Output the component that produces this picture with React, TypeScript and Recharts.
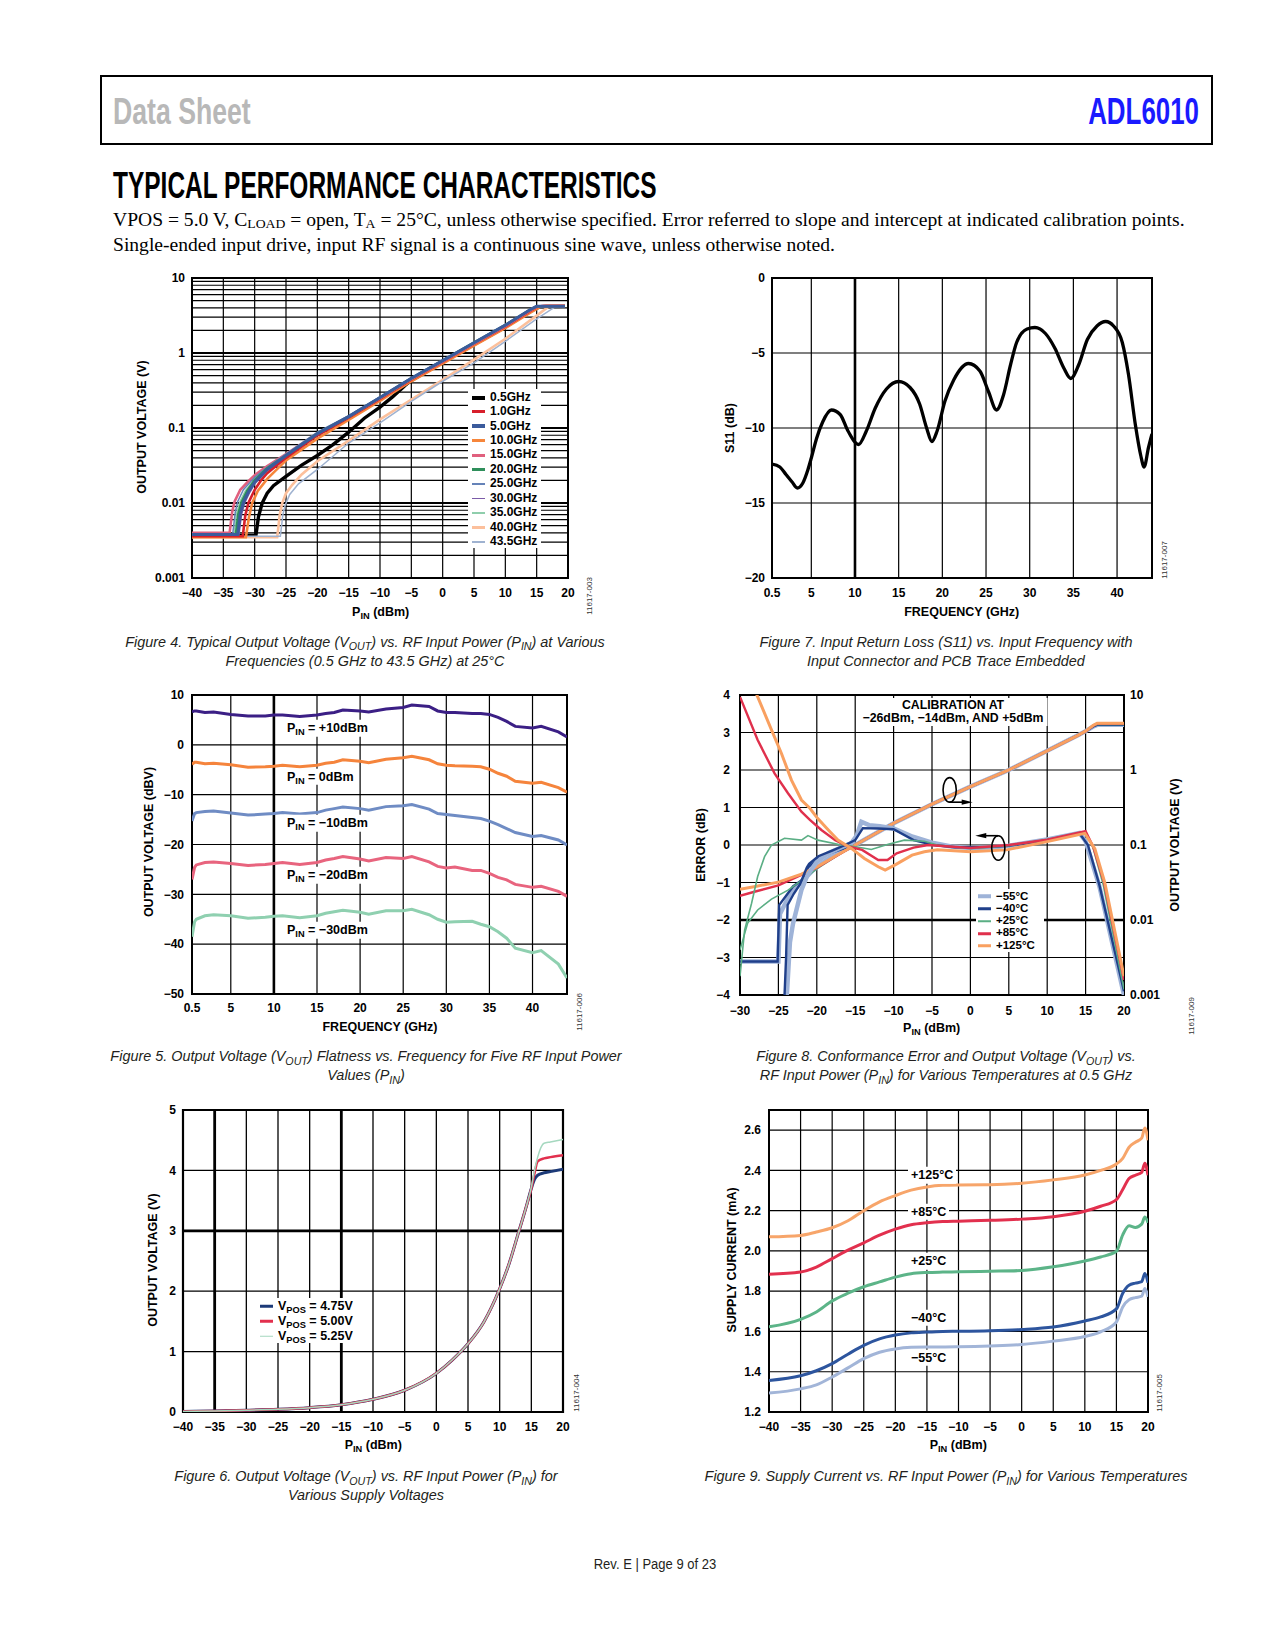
import React from "react";
import {
  LineChart,
  Line,
  XAxis,
  YAxis,
  CartesianGrid,
  ReferenceLine,
  ReferenceArea,
  ReferenceDot,
} from "recharts";

const SANS = "'Liberation Sans', Arial, Helvetica, sans-serif";
const SERIF = "'Liberation Serif', 'Times New Roman', serif";

// ---------- Figure 4: Vout vs Pin at various frequencies (log y) ----------
const F4_LABELS = ["0.5GHz", "1.0GHz", "5.0GHz", "10.0GHz", "15.0GHz", "20.0GHz", "25.0GHz", "30.0GHz", "35.0GHz", "40.0GHz", "43.5GHz"];
const F4_COLORS = ["#000000", "#d71f2b", "#3b5b9c", "#f6863b", "#e0607e", "#2f8f5b", "#6583b8", "#7b5ba8", "#8fceac", "#fcc09c", "#9fb2d0"];
const F4_WIDTHS = [3.4, 2.6, 3, 2.6, 2.6, 2.6, 1.5, 1.5, 1.5, 2.6, 1.5];
// drawing order, bottom first
const F4_ORDER = [0, 9, 10, 7, 3, 1, 4, 8, 6, 5, 2];

const F4_05 = [[-40, 0.0037], [-29.8, 0.0037], [-29.4, 0.0065], [-28.8, 0.01], [-28, 0.0135], [-27, 0.017], [-25, 0.0226], [-22.5, 0.032], [-20, 0.043], [-17.5, 0.06], [-15, 0.088], [-12.5, 0.135], [-10, 0.19], [-8, 0.26], [-6, 0.37], [-5, 0.43], [0, 0.75], [5, 1.3], [10, 2.22], [14, 3.6], [15.5, 4.15], [19.5, 4.2]];
const F4_1 = [[-40, 0.0036], [-31.9, 0.0036], [-31.5, 0.0068], [-31, 0.01], [-30, 0.015], [-29, 0.02], [-28, 0.025], [-25, 0.04], [-20, 0.08], [-15, 0.137], [-10, 0.245], [-5, 0.44], [0, 0.76], [5, 1.32], [10, 2.25], [14, 3.65], [15.2, 4.15], [19.5, 4.2]];
const F4_5 = [[-40, 0.0038], [-32.7, 0.0038], [-32.3, 0.0072], [-31.8, 0.0102], [-31, 0.014], [-30, 0.019], [-28, 0.028], [-25, 0.043], [-20, 0.084], [-15, 0.142], [-10, 0.255], [-5, 0.46], [0, 0.79], [5, 1.37], [10, 2.35], [14, 3.8], [15, 4.2], [19.5, 4.2]];
const F4_10 = [[-40, 0.0035], [-31.4, 0.0035], [-30.9, 0.0065], [-30.4, 0.01], [-29.5, 0.0145], [-28, 0.021], [-25, 0.037], [-20, 0.072], [-15, 0.128], [-10, 0.23], [-5, 0.42], [0, 0.72], [5, 1.25], [10, 2.15], [14, 3.45], [15.5, 4.1], [16.5, 4.3], [19.5, 4.3]];
const F4_15 = [[-40, 0.004], [-34, 0.004], [-33.6, 0.0075], [-33.2, 0.0105], [-32.3, 0.015], [-31, 0.0195], [-30, 0.0235], [-28, 0.031], [-25, 0.045], [-20, 0.085], [-15, 0.142], [-10, 0.25], [-5, 0.45], [0, 0.77], [5, 1.33], [10, 2.28], [14, 3.7], [15, 4.1], [16, 4.25], [19.5, 4.25]];
const F4_20 = [[-40, 0.0038], [-33, 0.0038], [-32.6, 0.0072], [-32.1, 0.0102], [-31.2, 0.0145], [-30, 0.02], [-28, 0.029], [-25, 0.043], [-20, 0.084], [-15, 0.142], [-10, 0.255], [-5, 0.46], [0, 0.79], [5, 1.37], [10, 2.35], [14, 3.8], [15, 4.2], [19.5, 4.2]];
const F4_25 = [[-40, 0.0039], [-33.5, 0.0039], [-33.1, 0.0075], [-32.7, 0.0105], [-31.8, 0.015], [-30, 0.022], [-28, 0.03], [-25, 0.045], [-20, 0.088], [-15, 0.146], [-10, 0.26], [-5, 0.47], [0, 0.81], [5, 1.4], [10, 2.4], [14, 3.85], [14.8, 4.2], [19.5, 4.2]];
const F4_30 = [[-40, 0.0038], [-32.5, 0.0038], [-32.1, 0.007], [-31.6, 0.01], [-30.8, 0.0138], [-30, 0.018], [-28, 0.027], [-25, 0.041], [-20, 0.079], [-15, 0.134], [-10, 0.24], [-5, 0.43], [0, 0.74], [5, 1.28], [10, 2.18], [14, 3.5], [15.5, 4.1], [19.5, 4.15]];
const F4_35 = [[-40, 0.0038], [-33.3, 0.0038], [-32.9, 0.0072], [-32.4, 0.0102], [-31.5, 0.0145], [-30, 0.021], [-28, 0.029], [-25, 0.043], [-20, 0.083], [-15, 0.14], [-10, 0.25], [-5, 0.45], [0, 0.78], [5, 1.35], [10, 2.32], [14, 3.75], [15, 4.15], [19.5, 4.2]];
const F4_40 = [[-40, 0.0035], [-26.4, 0.0035], [-26, 0.007], [-25.6, 0.01], [-25, 0.0135], [-24, 0.0175], [-22.5, 0.024], [-20, 0.036], [-15, 0.068], [-10, 0.13], [-5, 0.24], [0, 0.44], [5, 0.815], [10, 1.55], [15, 3.15], [17, 4.2], [19.5, 4.25]];
const F4_435 = [[-40, 0.0036], [-25.9, 0.0036], [-25.5, 0.007], [-25.1, 0.0095], [-24.4, 0.013], [-23, 0.018], [-20, 0.028], [-15, 0.063], [-10, 0.117], [-5, 0.227], [0, 0.42], [5, 0.74], [10, 1.43], [15, 2.85], [18, 4.15], [19.5, 4.15]];
const F4_SERIES = [F4_05, F4_1, F4_5, F4_10, F4_15, F4_20, F4_25, F4_30, F4_35, F4_40, F4_435];

// ---------- Figure 7: S11 vs frequency ----------
const S11 = [[0.5, -12.4], [1.4, -12.6], [2.1, -13.1], [2.8, -13.6], [3.4, -14.0], [4.0, -13.7], [4.6, -12.8], [5.0, -12.0], [5.6, -10.7], [6.3, -9.6], [7.3, -8.8], [8.3, -9.1], [9.2, -10.2], [10.4, -11.1], [11.3, -10.2], [12.3, -8.7], [13.6, -7.4], [15.0, -6.9], [16.3, -7.3], [17.4, -8.4], [18.2, -10.0], [18.8, -10.9], [19.4, -10.2], [20.3, -8.2], [21.3, -6.8], [23.0, -5.7], [24.3, -6.2], [25.3, -7.6], [26.2, -8.8], [27.0, -7.8], [27.8, -5.8], [28.5, -4.3], [29.7, -3.4], [30.6, -3.3], [31.8, -3.7], [32.9, -4.7], [33.9, -6.0], [34.7, -6.7], [35.6, -5.8], [36.6, -4.1], [37.7, -3.2], [38.7, -2.9], [39.6, -3.2], [40.6, -4.3], [41.3, -6.4], [42.1, -9.8], [42.7, -11.8], [43.1, -12.6], [43.6, -11.3], [44.0, -10.4]];

// ---------- Figure 5: flatness vs frequency ----------
const F5_FREQ = [0.5, 0.8, 1, 2, 3, 5, 7, 9, 10, 11, 13, 15, 16, 17, 18, 20, 21, 23, 25, 26, 28, 29, 30, 31, 33, 34, 35, 36, 37, 38, 40, 41, 43, 44];
const F5_P10 = [6.6, 6.8, 6.8, 6.5, 6.6, 6.1, 5.8, 5.8, 6.0, 6.0, 5.7, 6.0, 6.3, 6.5, 7.0, 6.8, 6.6, 7.2, 7.5, 8.0, 7.7, 6.8, 6.5, 6.5, 6.3, 6.3, 6.1, 5.5, 4.7, 3.7, 3.4, 3.7, 2.6, 1.6];
const F5_P0 = [-3.9, -3.5, -3.5, -3.8, -3.7, -4.0, -4.5, -4.4, -4.3, -4.1, -4.4, -4.1, -3.7, -3.5, -3.0, -3.3, -3.6, -2.9, -2.6, -2.3, -3.0, -3.8, -4.1, -4.2, -4.3, -4.4, -4.9, -5.7, -6.3, -7.3, -7.7, -7.5, -8.6, -9.5];
const F5_M10 = [-15.3, -13.8, -13.6, -13.4, -13.3, -13.7, -14.1, -13.9, -13.8, -13.6, -13.9, -13.6, -13.1, -12.8, -12.5, -12.8, -13.1, -12.4, -12.2, -12.0, -12.9, -13.8, -14.0, -14.2, -14.6, -14.8, -15.3, -16.0, -16.8, -17.6, -18.4, -18.2, -19.1, -20.1];
const F5_M20 = [-27.0, -24.6, -24.1, -23.6, -23.5, -23.8, -24.2, -24.0, -23.8, -23.6, -24.0, -23.6, -23.1, -22.8, -22.4, -22.9, -23.3, -22.6, -22.8, -22.4, -23.5, -24.4, -24.7, -24.5, -25.2, -25.2, -25.8, -26.6, -27.1, -28.0, -28.6, -28.4, -29.4, -30.4];
const F5_M30 = [-38.5, -35.5, -35.0, -34.3, -34.1, -34.3, -34.8, -34.6, -34.4, -34.3, -34.7, -34.3, -33.8, -33.5, -33.2, -33.6, -34.0, -33.3, -33.3, -33.0, -34.1, -35.0, -35.6, -35.5, -35.4, -36.0, -36.5, -37.5, -38.8, -40.8, -41.7, -41.3, -44.0, -46.8];
const F5_COLORS = ["#3b1f85", "#f5843c", "#6f8cc4", "#e8647e", "#8fd0b0"];

// ---------- Figure 8: error and Vout vs Pin for temperatures ----------
const F8_LABELS = ["\u221255°C", "\u221240°C", "+25°C", "+85°C", "+125°C"];
const F8_COLORS = ["#9eb3d8", "#1f3f8a", "#5aae84", "#e0304c", "#f9a060"];
const F8_WIDTHS = [4.5, 2.4, 1.6, 2.4, 3];
const ERR_M55 = [[-23.9, -4.0], [-23.5, -2.6], [-23.1, -2.1], [-22.0, -1.2], [-21.2, -0.8], [-20, -0.45], [-18.5, -0.22], [-17, -0.08], [-15.5, 0.05], [-14.8, 0.25], [-14.2, 0.62], [-13.2, 0.53], [-11.8, 0.5], [-10, 0.44], [-7.5, 0.22], [-5, 0.06], [-2.5, -0.04], [0, -0.08], [3, -0.06], [5, -0.02], [10, 0.15], [14.2, 0.32], [15, 0.1], [16.8, -1.1], [20, -4.0]];
const ERR_M40 = [[-24.2, -4.0], [-24.0, -3.0], [-23.8, -1.6], [-23.0, -1.3], [-22.2, -1.05], [-21.3, -0.6], [-21.0, -0.5], [-19.8, -0.3], [-18, -0.15], [-16.3, 0.0], [-15, 0.13], [-14, 0.45], [-12, 0.44], [-10, 0.42], [-7.4, 0.13], [-4.8, 0.0], [-2, -0.06], [0, -0.06], [3, -0.05], [5, -0.02], [10, 0.13], [14.2, 0.31], [15.3, 0.0], [16.8, -1.07], [20, -3.9]];
const ERR_P25 = [[-30, -3.5], [-29.4, -2.27], [-28.5, -1.56], [-27.7, -0.84], [-26.8, -0.31], [-25.9, 0.0], [-24.2, 0.18], [-22.0, 0.13], [-21.15, 0.25], [-19.85, 0.13], [-17.25, 0.02], [-15.1, -0.04], [-12.9, -0.12], [-10.7, 0.02], [-8.6, 0.13], [-6.0, 0.1], [-4.3, 0.0], [0, -0.1], [5, -0.02], [10, 0.15], [15, 0.36], [16, -0.1], [17.3, -1.07], [20, -3.85]];
const ERR_P85 = [[-30, 3.95], [-27.7, 2.8], [-25.5, 1.91], [-23.75, 1.38], [-22.0, 0.89], [-20.9, 0.67], [-19.4, 0.4], [-17.6, 0.13], [-15.9, -0.04], [-14.1, -0.13], [-12.0, -0.4], [-10.8, -0.4], [-9.6, -0.22], [-7.4, -0.07], [-5.5, 0.0], [0, -0.08], [5, 0.0], [10, 0.14], [15, 0.37], [16, -0.05], [17.4, -1.0], [20, -3.6]];
const ERR_P125 = [[-28.5, 4.6], [-27.8, 4.0], [-25.9, 3.07], [-24.6, 2.44], [-23.3, 1.73], [-22.0, 1.2], [-20.9, 0.98], [-19.9, 0.71], [-18.5, 0.4], [-17.25, 0.13], [-15.5, -0.09], [-13.8, -0.36], [-12.0, -0.58], [-11.1, -0.67], [-9.8, -0.53], [-7.6, -0.27], [-6.0, -0.18], [-4.3, -0.13], [0, -0.18], [4.7, -0.13], [10, 0.09], [14.9, 0.31], [16.2, -0.1], [17.5, -1.0], [20, -3.5]];
const VOUT_M55 = [[-30, 0.0028], [-25.0, 0.0028], [-24.8, 0.012], [-23.5, 0.022], [-22, 0.032], [-20.5, 0.046], [-18, 0.072], [-15, 0.1], [-10, 0.195], [-5, 0.35], [0, 0.6], [5, 1.0], [10, 1.8], [14, 2.9], [15, 3.3], [16, 3.8], [16.5, 4.0], [20, 4.0]];
const VOUT_M40 = [[-30, 0.0028], [-25.1, 0.0028], [-24.9, 0.0158], [-23.1, 0.028], [-21.6, 0.036], [-21.15, 0.05], [-19.85, 0.065], [-18, 0.08], [-15, 0.1], [-10, 0.195], [-5, 0.35], [0, 0.6], [5, 1.0], [10, 1.8], [14, 2.9], [15, 3.3], [16, 3.8], [16.5, 4.0], [20, 4.0]];
const VOUT_P25 = [[-30, 0.004], [-29, 0.0091], [-27.7, 0.0136], [-25.9, 0.019], [-23.75, 0.025], [-21.6, 0.036], [-20, 0.048], [-17.5, 0.07], [-15, 0.1], [-10, 0.195], [-5, 0.35], [0, 0.6], [5, 1.0], [10, 1.8], [14, 2.9], [15, 3.3], [16, 3.85], [16.5, 4.05], [20, 4.05]];
const VOUT_P85 = [[-30, 0.021], [-28, 0.024], [-25, 0.029], [-22, 0.04], [-20, 0.05], [-17.5, 0.071], [-15, 0.1], [-10, 0.195], [-5, 0.35], [0, 0.6], [5, 1.0], [10, 1.8], [14, 2.9], [15, 3.3], [16, 3.9], [16.5, 4.15], [20, 4.15]];
const VOUT_P125 = [[-30, 0.0257], [-28, 0.028], [-25, 0.032], [-22, 0.041], [-20, 0.051], [-17.5, 0.072], [-15, 0.1], [-10, 0.195], [-5, 0.35], [0, 0.6], [5, 1.0], [10, 1.8], [14, 2.9], [15, 3.3], [16, 3.95], [16.5, 4.2], [20, 4.2]];
const F8_ERR = [ERR_M55, ERR_M40, ERR_P25, ERR_P85, ERR_P125];
const F8_VOUT = [VOUT_M55, VOUT_M40, VOUT_P25, VOUT_P85, VOUT_P125];

// ---------- Figure 6: Vout (linear) vs Pin for supply voltages ----------
const F6_PIN = [-40, -35, -30, -25, -20, -15, -10, -5, 0, 2.5, 5, 7.5, 10, 11.5, 13, 14.2, 15, 15.5, 16, 17, 18, 20];
const F6_V475 = [0.01, 0.017, 0.028, 0.044, 0.072, 0.12, 0.21, 0.36, 0.64, 0.86, 1.13, 1.49, 2.04, 2.46, 2.98, 3.4, 3.7, 3.85, 3.92, 3.96, 3.98, 4.02];
const F6_V500 = [0.01, 0.017, 0.028, 0.044, 0.072, 0.12, 0.21, 0.36, 0.64, 0.86, 1.13, 1.49, 2.04, 2.46, 2.98, 3.4, 3.7, 3.95, 4.15, 4.2, 4.22, 4.25];
const F6_V525 = [0.01, 0.017, 0.028, 0.044, 0.072, 0.12, 0.21, 0.36, 0.64, 0.86, 1.13, 1.49, 2.04, 2.46, 2.98, 3.4, 3.72, 4.0, 4.22, 4.45, 4.47, 4.51];
const F6_LABELS = ["4.75V", "5.00V", "5.25V"];
const F6_COLORS = ["#1c3a78", "#e2304e", "#a5d8bf"];
const F6_WIDTHS = [3, 2.5, 1.5];

// ---------- Figure 9: supply current vs Pin ----------
const F9_PIN = [-40, -35, -32.5, -30, -27.5, -25, -22.5, -20, -17.5, -15, -12.5, -10, -5, 0, 5, 10, 12.5, 15, 16, 17, 18, 19, 19.5, 20];
const F9_P125 = [2.07, 2.077, 2.094, 2.115, 2.15, 2.2, 2.244, 2.275, 2.302, 2.318, 2.326, 2.328, 2.329, 2.336, 2.353, 2.377, 2.4, 2.432, 2.46, 2.515, 2.54, 2.56, 2.61, 2.55];
const F9_P85 = [1.884, 1.895, 1.92, 1.962, 2.004, 2.04, 2.078, 2.108, 2.13, 2.14, 2.146, 2.148, 2.152, 2.158, 2.17, 2.197, 2.222, 2.255, 2.305, 2.36, 2.376, 2.39, 2.435, 2.376];
const F9_P25 = [1.623, 1.66, 1.697, 1.752, 1.79, 1.822, 1.846, 1.87, 1.887, 1.893, 1.895, 1.896, 1.899, 1.903, 1.921, 1.95, 1.97, 1.998, 2.08, 2.125, 2.117, 2.133, 2.168, 2.14];
const F9_M40 = [1.357, 1.38, 1.405, 1.44, 1.487, 1.531, 1.563, 1.582, 1.593, 1.597, 1.6, 1.601, 1.604, 1.61, 1.622, 1.652, 1.672, 1.712, 1.79, 1.83, 1.84, 1.847, 1.888, 1.842];
const F9_M55 = [1.294, 1.315, 1.335, 1.374, 1.419, 1.465, 1.497, 1.513, 1.521, 1.523, 1.523, 1.524, 1.528, 1.535, 1.552, 1.575, 1.598, 1.647, 1.722, 1.758, 1.768, 1.775, 1.813, 1.772];
const F9_COLORS = ["#f7a56a", "#e2304e", "#5cb488", "#2d559e", "#a2b5d8"];

// ---------- ticks ----------
const PIN40_TICKS = [-40, -35, -30, -25, -20, -15, -10, -5, 0, 5, 10, 15, 20];
const PIN30_TICKS = [-30, -25, -20, -15, -10, -5, 0, 5, 10, 15, 20];
const FREQ_TICKS = [0.5, 5, 10, 15, 20, 25, 30, 35, 40];
const DECADES = [0.001, 0.01, 0.1, 1, 10];
const LOG_GRID = [0.001, 0.01, 0.1, 1]
  .flatMap((d) => [1, 2, 3, 4, 5, 6, 7, 8, 9].map((m) => +(d * m).toPrecision(2)))
  .concat(10);

const pts = (arr: number[][]) => arr.map(([p, v]) => ({ p, v }));

const TICK = { fill: "#000", fontSize: 12, fontWeight: 700, fontFamily: SANS };
const minus = (v: number) => String(v).replace("-", "\u2212");
const logFmt = (v: number) => (DECADES.includes(v) ? String(v) : "");

type Rect = { x: number; y: number; w: number; h: number };
const YW = 60;
const XH = 30;
const MT = 10;

const P4: Rect = { x: 192, y: 278, w: 376, h: 300 };
const P7: Rect = { x: 772, y: 278, w: 380, h: 300 };
const P5: Rect = { x: 192, y: 695, w: 375, h: 299 };
const P8: Rect = { x: 740, y: 695, w: 384, h: 300 };
const P6: Rect = { x: 183, y: 1110, w: 380, h: 302 };
const P9: Rect = { x: 769, y: 1110, w: 379, h: 302 };

type TxtProps = {
  x: number;
  y: number;
  a?: "start" | "middle" | "end";
  rot?: number;
  sx?: number;
  style?: React.CSSProperties;
  children: React.ReactNode;
};

function Txt({ x, y, a = "middle", rot = 0, sx = 1, style, children }: TxtProps) {
  const tx = a === "start" ? "0" : a === "end" ? "-100%" : "-50%";
  const ox = a === "start" ? "left" : a === "end" ? "right" : "center";
  return (
    <div
      style={{
        position: "absolute",
        left: x,
        top: y,
        whiteSpace: "nowrap",
        lineHeight: 1,
        transform: `translate(${tx},-50%) rotate(${rot}deg) scaleX(${sx})`,
        transformOrigin: `${ox} center`,
        ...style,
      }}
    >
      {children}
    </div>
  );
}

const Sub = ({ children }: { children: React.ReactNode }) => (
  <span style={{ fontSize: "0.74em", position: "relative", top: "0.32em" }}>{children}</span>
);

const AX = { fontSize: 12.5, fontWeight: 700, fontFamily: SANS };
const MARK = { fontSize: 8, color: "#333", fontFamily: SANS };
const CAP = { fontSize: 15.5, fontStyle: "italic" as const, fontFamily: SANS, color: "#231f20" };
const CAP_SX = 0.93;
const LBL = { fontSize: 12.5, fontWeight: 700, fontFamily: SANS, background: "#fff", padding: "2px 3px" };
const PARA = { fontFamily: SERIF, fontSize: 19, color: "#000" };
const PARA_SX = 1.03;

function Swatch({ color, h }: { color: string; h: number }) {
  return <span style={{ display: "inline-block", width: 13, height: h, background: color, verticalAlign: "middle", marginRight: 5 }} />;
}

// ---------- figures ----------
function Fig4() {
  return (
    <>
      <div style={{ position: "absolute", left: P4.x - YW, top: P4.y - MT }}>
        <LineChart width={P4.w + YW + 10} height={P4.h + MT + XH} margin={{ top: MT, right: 10, bottom: 0, left: 0 }}>
          <CartesianGrid stroke="#000" strokeWidth={1.2} />
          <XAxis dataKey="p" type="number" domain={[-40, 20]} ticks={PIN40_TICKS} interval={0} tick={TICK} tickFormatter={minus} tickLine={false} axisLine={false} tickSize={0} tickMargin={10} height={XH} allowDataOverflow />
          <YAxis type="number" scale="log" domain={[0.001, 10]} ticks={LOG_GRID} interval={0} tick={TICK} tickFormatter={logFmt} tickLine={false} axisLine={false} tickSize={0} tickMargin={7} width={YW} allowDataOverflow />
          {[0.01, 0.1, 1].map((d) => (
            <ReferenceLine key={d} y={d} stroke="#000" strokeWidth={2.2} />
          ))}
          <ReferenceArea x1={-40} x2={20} y1={0.001} y2={10} fill="none" stroke="#000" strokeWidth={2} />
          {F4_ORDER.map((i) => (
            <Line key={F4_LABELS[i]} data={pts(F4_SERIES[i])} dataKey="v" type="linear" stroke={F4_COLORS[i]} strokeWidth={F4_WIDTHS[i]} dot={false} isAnimationActive={false} />
          ))}
        </LineChart>
      </div>
      <div style={{ position: "absolute", left: 468, top: 389, width: 73, height: 159, background: "#fff" }} />
      {F4_LABELS.map((l, i) => (
        <Txt key={l} x={472} y={396.7 + i * 14.43} a="start" style={{ fontSize: 12, fontWeight: 700, fontFamily: SANS }}>
          <Swatch color={F4_COLORS[i]} h={i === 0 || i === 2 ? 4 : F4_WIDTHS[i] < 2 ? 1.5 : 3} />
          {l}
        </Txt>
      ))}
      <Txt x={141.7} y={427} rot={-90} style={AX}>OUTPUT VOLTAGE (V)</Txt>
      <Txt x={380.7} y={611.7} style={AX}>
        P<Sub>IN</Sub> (dBm)
      </Txt>
      <Txt x={590} y={596} rot={-90} style={MARK}>11617-003</Txt>
      <Txt x={365} y={641.7} sx={CAP_SX} style={CAP}>
        Figure 4. Typical Output Voltage (V<Sub>OUT</Sub>) vs. RF Input Power (P<Sub>IN</Sub>) at Various
      </Txt>
      <Txt x={365} y={660.7} sx={CAP_SX} style={CAP}>Frequencies (0.5 GHz to 43.5 GHz) at 25°C</Txt>
    </>
  );
}

function Fig7() {
  return (
    <>
      <div style={{ position: "absolute", left: P7.x - YW, top: P7.y - MT }}>
        <LineChart width={P7.w + YW + 10} height={P7.h + MT + XH} margin={{ top: MT, right: 10, bottom: 0, left: 0 }}>
          <CartesianGrid stroke="#000" strokeWidth={1.2} />
          <XAxis dataKey="p" type="number" domain={[0.5, 44]} ticks={FREQ_TICKS} interval={0} tick={TICK} tickFormatter={minus} tickLine={false} axisLine={false} tickSize={0} tickMargin={10} height={XH} allowDataOverflow />
          <YAxis type="number" domain={[-20, 0]} ticks={[-20, -15, -10, -5, 0]} interval={0} tick={TICK} tickFormatter={minus} tickLine={false} axisLine={false} tickSize={0} tickMargin={7} width={YW} allowDataOverflow />
          <ReferenceLine x={10} stroke="#000" strokeWidth={2.6} />
          <ReferenceArea x1={0.5} x2={44} y1={-20} y2={0} fill="none" stroke="#000" strokeWidth={2} />
          <Line data={pts(S11)} dataKey="v" type="monotone" stroke="#000" strokeWidth={3.3} dot={false} isAnimationActive={false} />
        </LineChart>
      </div>
      <Txt x={730} y={428} rot={-90} style={AX}>S11 (dB)</Txt>
      <Txt x={961.7} y={611.7} style={AX}>FREQUENCY (GHz)</Txt>
      <Txt x={1165} y={560} rot={-90} style={MARK}>11617-007</Txt>
      <Txt x={946.3} y={641.7} sx={CAP_SX} style={CAP}>Figure 7. Input Return Loss (S11) vs. Input Frequency with</Txt>
      <Txt x={946.3} y={660.7} sx={CAP_SX} style={CAP}>Input Connector and PCB Trace Embedded</Txt>
    </>
  );
}

function Fig5() {
  const rows = F5_FREQ.map((f, i) => ({ p: f, a: F5_P10[i], b: F5_P0[i], c: F5_M10[i], d: F5_M20[i], e: F5_M30[i] }));
  const keys = ["a", "b", "c", "d", "e"];
  const labels = ["+10dBm", "0dBm", "\u221210dBm", "\u221220dBm", "\u221230dBm"];
  const ly = [728.3, 776.7, 823.3, 875, 930];
  return (
    <>
      <div style={{ position: "absolute", left: P5.x - YW, top: P5.y - MT }}>
        <LineChart data={rows} width={P5.w + YW + 10} height={P5.h + MT + XH} margin={{ top: MT, right: 10, bottom: 0, left: 0 }}>
          <CartesianGrid stroke="#000" strokeWidth={1.2} />
          <XAxis dataKey="p" type="number" domain={[0.5, 44]} ticks={FREQ_TICKS} interval={0} tick={TICK} tickFormatter={minus} tickLine={false} axisLine={false} tickSize={0} tickMargin={9} height={XH} allowDataOverflow />
          <YAxis type="number" domain={[-50, 10]} ticks={[-50, -40, -30, -20, -10, 0, 10]} interval={0} tick={TICK} tickFormatter={minus} tickLine={false} axisLine={false} tickSize={0} tickMargin={8} width={YW} allowDataOverflow />
          <ReferenceLine x={10} stroke="#000" strokeWidth={2.6} />
          <ReferenceArea x1={0.5} x2={44} y1={-50} y2={10} fill="none" stroke="#000" strokeWidth={2} />
          {keys.map((k, i) => (
            <Line key={k} dataKey={k} type="linear" stroke={F5_COLORS[i]} strokeWidth={3} dot={false} isAnimationActive={false} />
          ))}
        </LineChart>
      </div>
      {labels.map((l, i) => (
        <Txt key={l} x={284} y={ly[i]} a="start" style={LBL}>
          P<Sub>IN</Sub> = {l}
        </Txt>
      ))}
      <Txt x={149.3} y={842} rot={-90} style={AX}>OUTPUT VOLTAGE (dBV)</Txt>
      <Txt x={380} y={1027.3} style={AX}>FREQUENCY (GHz)</Txt>
      <Txt x={580} y={1011.7} rot={-90} style={MARK}>11617-006</Txt>
      <Txt x={365.6} y={1056.2} sx={CAP_SX} style={CAP}>
        Figure 5. Output Voltage (V<Sub>OUT</Sub>) Flatness vs. Frequency for Five RF Input Power
      </Txt>
      <Txt x={365.6} y={1075.2} sx={CAP_SX} style={CAP}>
        Values (P<Sub>IN</Sub>)
      </Txt>
    </>
  );
}

const ellipseArrow = (dir: number) => (props: any) => {
  const { cx, cy } = props;
  const ay = dir > 0 ? cy + 12.3 : cy - 12.3;
  const ex = cx + dir * 23;
  return (
    <g>
      <ellipse cx={cx} cy={cy} rx={6.6} ry={12.3} fill="none" stroke="#000" strokeWidth={1.6} />
      <line x1={cx} y1={ay} x2={ex - dir * 6} y2={ay} stroke="#000" strokeWidth={1.6} />
      <path d={`M${ex},${ay} L${ex - dir * 11},${ay - 2.6} L${ex - dir * 11},${ay + 2.6} Z`} fill="#000" />
    </g>
  );
};

function Fig8() {
  return (
    <>
      <div style={{ position: "absolute", left: P8.x - YW, top: P8.y - MT }}>
        <LineChart width={P8.w + YW + YW} height={P8.h + MT + XH} margin={{ top: MT, right: 0, bottom: 0, left: 0 }}>
          <CartesianGrid stroke="#000" strokeWidth={1.2} yAxisId="err" />
          <XAxis dataKey="p" type="number" domain={[-30, 20]} ticks={PIN30_TICKS} interval={0} tick={TICK} tickFormatter={minus} tickLine={false} axisLine={false} tickSize={0} tickMargin={11} height={XH} allowDataOverflow />
          <YAxis yAxisId="err" type="number" domain={[-4, 4]} ticks={[-4, -3, -2, -1, 0, 1, 2, 3, 4]} interval={0} tick={TICK} tickFormatter={minus} tickLine={false} axisLine={false} tickSize={0} tickMargin={10} width={YW} allowDataOverflow />
          <YAxis yAxisId="v" orientation="right" type="number" scale="log" domain={[0.001, 10]} ticks={DECADES} interval={0} tick={TICK} tickLine={false} axisLine={false} tickSize={0} tickMargin={6} width={YW} allowDataOverflow />
          <ReferenceLine yAxisId="err" y={-2} stroke="#000" strokeWidth={2.6} />
          <ReferenceArea yAxisId="err" x1={-30} x2={20} y1={-4} y2={4} fill="none" stroke="#000" strokeWidth={2} />
          {F8_VOUT.map((d, i) => (
            <Line key={"v" + i} yAxisId="v" data={pts(d)} dataKey="v" type="linear" stroke={F8_COLORS[i]} strokeWidth={F8_WIDTHS[i]} dot={false} isAnimationActive={false} />
          ))}
          {F8_ERR.map((d, i) => (
            <Line key={"e" + i} yAxisId="err" data={pts(d)} dataKey="v" type="linear" stroke={F8_COLORS[i]} strokeWidth={F8_WIDTHS[i]} dot={false} isAnimationActive={false} />
          ))}
          <ReferenceDot yAxisId="err" x={-2.7} y={1.47} r={0} shape={ellipseArrow(1)} />
          <ReferenceDot yAxisId="err" x={3.63} y={-0.08} r={0} shape={ellipseArrow(-1)} />
        </LineChart>
      </div>
      <div
        style={{
          position: "absolute",
          left: 953,
          top: 712,
          transform: "translate(-50%,-50%)",
          background: "#fff",
          padding: "1px 4px",
          textAlign: "center",
          whiteSpace: "nowrap",
          fontSize: 12.3,
          lineHeight: "13px",
          fontWeight: 700,
          fontFamily: SANS,
        }}
      >
        CALIBRATION AT
        <br />
        {"\u221226dBm, \u221214dBm, AND +5dBm"}
      </div>
      <div style={{ position: "absolute", left: 976, top: 889, width: 68, height: 63, background: "#fff" }} />
      {F8_LABELS.map((l, i) => (
        <Txt key={l} x={978} y={896.5 + i * 12.25} a="start" style={{ fontSize: 11.5, fontWeight: 700, fontFamily: SANS }}>
          <Swatch color={F8_COLORS[i]} h={i === 0 ? 4 : 2.6} />
          {l}
        </Txt>
      ))}
      <Txt x={700.7} y={845} rot={-90} style={AX}>ERROR (dB)</Txt>
      <Txt x={1175} y={845} rot={-90} style={AX}>OUTPUT VOLTAGE (V)</Txt>
      <Txt x={931.7} y={1028.3} style={AX}>
        P<Sub>IN</Sub> (dBm)
      </Txt>
      <Txt x={1191.7} y={1015.7} rot={-90} style={MARK}>11617-009</Txt>
      <Txt x={946.3} y={1056.2} sx={CAP_SX} style={CAP}>
        Figure 8. Conformance Error and Output Voltage (V<Sub>OUT</Sub>) vs.
      </Txt>
      <Txt x={946.3} y={1075.2} sx={CAP_SX} style={CAP}>
        RF Input Power (P<Sub>IN</Sub>) for Various Temperatures at 0.5 GHz
      </Txt>
    </>
  );
}

function Fig6() {
  const rows = F6_PIN.map((p, i) => ({ p, a: F6_V475[i], b: F6_V500[i], c: F6_V525[i] }));
  const keys = ["a", "b", "c"];
  return (
    <>
      <div style={{ position: "absolute", left: P6.x - YW, top: P6.y - MT }}>
        <LineChart data={rows} width={P6.w + YW + 10} height={P6.h + MT + XH} margin={{ top: MT, right: 10, bottom: 0, left: 0 }}>
          <CartesianGrid stroke="#000" strokeWidth={1.3} />
          <XAxis dataKey="p" type="number" domain={[-40, 20]} ticks={PIN40_TICKS} interval={0} tick={TICK} tickFormatter={minus} tickLine={false} axisLine={false} tickSize={0} tickMargin={10} height={XH} allowDataOverflow />
          <YAxis type="number" domain={[0, 5]} ticks={[0, 1, 2, 3, 4, 5]} interval={0} tick={TICK} tickLine={false} axisLine={false} tickSize={0} tickMargin={7} width={YW} allowDataOverflow />
          <ReferenceLine x={-35} stroke="#000" strokeWidth={2.8} />
          <ReferenceLine x={-15} stroke="#000" strokeWidth={2.8} />
          <ReferenceLine y={3} stroke="#000" strokeWidth={2.8} />
          <ReferenceArea x1={-40} x2={20} y1={0} y2={5} fill="none" stroke="#000" strokeWidth={2.2} />
          {keys.map((k, i) => (
            <Line key={k} dataKey={k} type="monotone" stroke={F6_COLORS[i]} strokeWidth={F6_WIDTHS[i]} dot={false} isAnimationActive={false} />
          ))}
        </LineChart>
      </div>
      <div style={{ position: "absolute", left: 257, top: 1298, width: 100, height: 45, background: "#fff" }} />
      {F6_LABELS.map((l, i) => (
        <Txt key={l} x={260} y={1305.7 + i * 15} a="start" style={{ fontSize: 12.5, fontWeight: 700, fontFamily: SANS }}>
          <Swatch color={F6_COLORS[i]} h={i === 0 ? 3.5 : i === 1 ? 2.8 : 1.5} />V<Sub>POS</Sub> = {l}
        </Txt>
      ))}
      <Txt x={153.3} y={1260} rot={-90} style={AX}>OUTPUT VOLTAGE (V)</Txt>
      <Txt x={373.3} y={1445} style={AX}>
        P<Sub>IN</Sub> (dBm)
      </Txt>
      <Txt x={576.7} y={1393.3} rot={-90} style={MARK}>11617-004</Txt>
      <Txt x={365.6} y={1476} sx={CAP_SX} style={CAP}>
        Figure 6. Output Voltage (V<Sub>OUT</Sub>) vs. RF Input Power (P<Sub>IN</Sub>) for
      </Txt>
      <Txt x={365.6} y={1495} sx={CAP_SX} style={CAP}>Various Supply Voltages</Txt>
    </>
  );
}

function Fig9() {
  const rows = F9_PIN.map((p, i) => ({ p, a: F9_P125[i], b: F9_P85[i], c: F9_P25[i], d: F9_M40[i], e: F9_M55[i] }));
  const keys = ["a", "b", "c", "d", "e"];
  const labels = ["+125°C", "+85°C", "+25°C", "\u221240°C", "\u221255°C"];
  const ly = [1175, 1211.7, 1261, 1317.7, 1357.7];
  return (
    <>
      <div style={{ position: "absolute", left: P9.x - YW, top: P9.y - MT }}>
        <LineChart data={rows} width={P9.w + YW + 10} height={P9.h + MT + XH} margin={{ top: MT, right: 10, bottom: 0, left: 0 }}>
          <CartesianGrid stroke="#000" strokeWidth={1.2} />
          <XAxis dataKey="p" type="number" domain={[-40, 20]} ticks={PIN40_TICKS} interval={0} tick={TICK} tickFormatter={minus} tickLine={false} axisLine={false} tickSize={0} tickMargin={10} height={XH} allowDataOverflow />
          <YAxis type="number" domain={[1.2, 2.7]} ticks={[1.2, 1.4, 1.6, 1.8, 2.0, 2.2, 2.4, 2.6]} interval={0} tick={TICK} tickFormatter={(v: number) => v.toFixed(1)} tickLine={false} axisLine={false} tickSize={0} tickMargin={8} width={YW} allowDataOverflow />
          <ReferenceArea x1={-40} x2={20} y1={1.2} y2={2.7} fill="none" stroke="#000" strokeWidth={2} />
          {keys.map((k, i) => (
            <Line key={k} dataKey={k} type="monotone" stroke={F9_COLORS[i]} strokeWidth={3} dot={false} isAnimationActive={false} />
          ))}
        </LineChart>
      </div>
      {labels.map((l, i) => (
        <Txt key={l} x={908} y={ly[i]} a="start" style={LBL}>
          {l}
        </Txt>
      ))}
      <Txt x={731.7} y={1260} rot={-90} style={AX}>SUPPLY CURRENT (mA)</Txt>
      <Txt x={958.3} y={1445} style={AX}>
        P<Sub>IN</Sub> (dBm)
      </Txt>
      <Txt x={1160} y={1393.3} rot={-90} style={MARK}>11617-005</Txt>
      <Txt x={946.3} y={1476} sx={CAP_SX} style={CAP}>
        Figure 9. Supply Current vs. RF Input Power (P<Sub>IN</Sub>) for Various Temperatures
      </Txt>
    </>
  );
}

function Header() {
  const cond = { fontFamily: SANS, fontWeight: 700 };
  const small = { fontSize: "0.7em", position: "relative" as const, top: "0.12em" };
  return (
    <>
      <div style={{ position: "absolute", left: 100, top: 75, width: 1113, height: 70, border: "2px solid #000", boxSizing: "border-box" }} />
      <Txt x={113} y={110.5} a="start" sx={0.72} style={{ ...cond, fontSize: 37, color: "#b8b8b8" }}>Data Sheet</Txt>
      <Txt x={1199} y={110.5} a="end" sx={0.7} style={{ ...cond, fontSize: 37, color: "#1a1aff" }}>ADL6010</Txt>
      <Txt x={113} y={186} a="start" sx={0.68} style={{ ...cond, fontSize: 36, color: "#000" }}>TYPICAL PERFORMANCE CHARACTERISTICS</Txt>
      <Txt x={113} y={219} a="start" sx={PARA_SX} style={PARA}>
        VPOS = 5.0 V, C<span style={small}>LOAD</span> = open, T<span style={small}>A</span> = 25°C, unless otherwise specified. Error referred to slope and intercept at indicated calibration points.
      </Txt>
      <Txt x={113} y={244} a="start" sx={PARA_SX} style={PARA}>
        Single-ended input drive, input RF signal is a continuous sine wave, unless otherwise noted.
      </Txt>
    </>
  );
}

export default function App() {
  return (
    <div style={{ position: "absolute", left: 0, top: 0, width: 1275, height: 1650, background: "#fff", overflow: "hidden", fontFamily: SANS, color: "#000" }}>
      <Header />
      <Fig4 />
      <Fig7 />
      <Fig5 />
      <Fig8 />
      <Fig6 />
      <Fig9 />
      <Txt x={655} y={1564} sx={0.93} style={{ fontSize: 14, fontFamily: SANS, color: "#231f20" }}>
        Rev. E | Page 9 of 23
      </Txt>
    </div>
  );
}
